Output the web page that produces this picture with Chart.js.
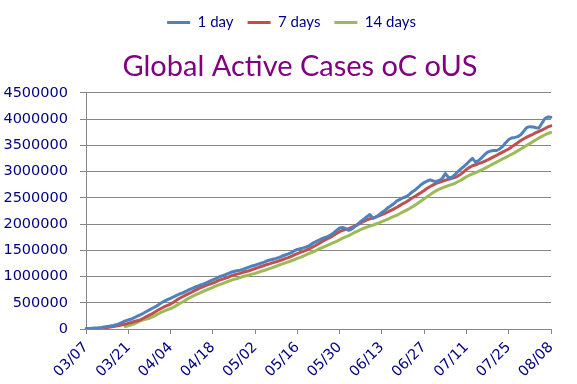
<!DOCTYPE html>
<html>
<head>
<meta charset="utf-8">
<script src="https://cdn.jsdelivr.net/npm/chart.js@4.4.1/dist/chart.umd.min.js"></script>
<style>
html,body{margin:0;padding:0;background:#fff;}
#wrap{width:577px;height:384px;}
</style>
</head>
<body>
<div id="wrap"><canvas id="c" width="577" height="384"></canvas></div>
<script>
const categories = [
"03/07","03/08","03/09","03/10","03/11","03/12","03/13","03/14","03/15","03/16","03/17","03/18","03/19","03/20","03/21","03/22","03/23","03/24","03/25","03/26","03/27","03/28","03/29","03/30","03/31",
"04/01","04/02","04/03","04/04","04/05","04/06","04/07","04/08","04/09","04/10","04/11","04/12","04/13","04/14","04/15","04/16","04/17","04/18","04/19","04/20","04/21","04/22","04/23","04/24","04/25","04/26","04/27","04/28","04/29","04/30",
"05/01","05/02","05/03","05/04","05/05","05/06","05/07","05/08","05/09","05/10","05/11","05/12","05/13","05/14","05/15","05/16","05/17","05/18","05/19","05/20","05/21","05/22","05/23","05/24","05/25","05/26","05/27","05/28","05/29","05/30","05/31",
"06/01","06/02","06/03","06/04","06/05","06/06","06/07","06/08","06/09","06/10","06/11","06/12","06/13","06/14","06/15","06/16","06/17","06/18","06/19","06/20","06/21","06/22","06/23","06/24","06/25","06/26","06/27","06/28","06/29","06/30",
"07/01","07/02","07/03","07/04","07/05","07/06","07/07","07/08","07/09","07/10","07/11","07/12","07/13","07/14","07/15","07/16","07/17","07/18","07/19","07/20","07/21","07/22","07/23","07/24","07/25","07/26","07/27","07/28","07/29","07/30","07/31",
"08/01","08/02","08/03","08/04","08/05","08/06","08/07","08/08"
];

const tickLabels = ["03/07","03/21","04/04","04/18","05/02","05/16","05/30","06/13","06/27","07/11","07/25","08/08"];

const yTicks = [0,500000,1000000,1500000,2000000,2500000,3000000,3500000,4000000,4500000];

const seriesNames = ["1 day","7 days","14 days"];

const oneDay = [
8000,10000,13000,17000,22000,30000,40000,50000,58000,68000,
80000,100000,128000,155000,172000,190000,215000,245000,270000,300000,
333000,365000,395000,425000,460000,500000,530000,560000,585000,610000,
640000,667000,690000,715000,745000,770000,795000,815000,840000,860000,
885000,910000,935000,960000,990000,1010000,1030000,1055000,1080000,1095000,
1110000,1120000,1135000,1160000,1180000,1200000,1215000,1235000,1255000,1275000,
1300000,1315000,1330000,1345000,1365000,1390000,1410000,1430000,1455000,1490000,
1515000,1530000,1545000,1565000,1590000,1630000,1660000,1690000,1715000,1740000,
1760000,1790000,1830000,1880000,1925000,1935000,1910000,1880000,1905000,1950000,
2000000,2050000,2090000,2140000,2180000,2110000,2130000,2175000,2220000,2260000,
2310000,2350000,2390000,2440000,2470000,2500000,2520000,2560000,2610000,2650000,
2700000,2750000,2790000,2820000,2840000,2820000,2810000,2830000,2870000,2960000,
2890000,2880000,2930000,2990000,3040000,3090000,3140000,3200000,3250000,3180000,
3210000,3260000,3320000,3370000,3390000,3400000,3400000,3430000,3480000,3550000,
3610000,3640000,3650000,3665000,3700000,3770000,3840000,3855000,3850000,3835000,
3830000,3920000,4010000,4040000,4035000
];

const sevenDays = [
null,null,null,null,null,null,20000,28000,37000,47000,
57000,68000,80000,92000,108000,125000,142000,158000,175000,205000,
235000,265000,295000,330000,365000,395000,425000,450000,475000,510000,
550000,585000,615000,645000,672000,700000,730000,760000,790000,810000,
835000,855000,875000,900000,925000,945000,965000,985000,1010000,1030000,
1045000,1060000,1080000,1095000,1110000,1130000,1150000,1170000,1190000,1210000,
1230000,1245000,1265000,1280000,1300000,1320000,1340000,1360000,1385000,1410000,
1435000,1460000,1480000,1505000,1530000,1560000,1590000,1625000,1660000,1690000,
1720000,1750000,1785000,1820000,1855000,1880000,1895000,1910000,1935000,1960000,
1990000,2020000,2050000,2080000,2100000,2115000,2135000,2155000,2180000,2205000,
2230000,2260000,2290000,2320000,2355000,2390000,2420000,2455000,2495000,2530000,
2565000,2600000,2640000,2680000,2715000,2745000,2775000,2795000,2815000,2835000,
2850000,2865000,2885000,2910000,2945000,2990000,3040000,3080000,3110000,3130000,
3150000,3170000,3195000,3220000,3250000,3280000,3310000,3340000,3370000,3400000,
3430000,3470000,3510000,3550000,3590000,3625000,3655000,3685000,3710000,3740000,
3765000,3790000,3820000,3850000,3870000
];

const fourteenDays = [
null,null,null,null,null,null,null,null,null,null,
null,null,null,45000,60000,78000,100000,125000,155000,175000,
190000,205000,230000,260000,290000,320000,345000,370000,390000,415000,
450000,485000,515000,550000,585000,615000,645000,670000,695000,720000,
745000,770000,795000,820000,840000,860000,885000,905000,925000,945000,
960000,980000,1000000,1015000,1030000,1045000,1060000,1080000,1100000,1115000,
1135000,1155000,1175000,1195000,1220000,1240000,1260000,1280000,1300000,1320000,
1345000,1365000,1390000,1415000,1440000,1465000,1490000,1520000,1545000,1570000,
1595000,1620000,1645000,1670000,1700000,1730000,1755000,1780000,1810000,1840000,
1865000,1895000,1920000,1940000,1960000,1980000,2000000,2020000,2045000,2070000,
2095000,2120000,2145000,2170000,2200000,2230000,2260000,2290000,2325000,2360000,
2400000,2440000,2480000,2520000,2560000,2600000,2635000,2665000,2690000,2710000,
2730000,2750000,2770000,2800000,2830000,2865000,2900000,2930000,2955000,2980000,
3005000,3030000,3060000,3090000,3120000,3150000,3180000,3210000,3240000,3270000,
3300000,3330000,3360000,3395000,3430000,3465000,3500000,3535000,3570000,3605000,
3640000,3670000,3700000,3725000,3745000
];

const colors = ["#4F81BD","#C0504D","#9BBB59"];
const TEXT = "#000080";
const GRID = "#868686";

const TITLE_DX = 11.5;
const LEGEND_DX = 3;

const shiftBoxes = {
  id: 'shiftBoxes',
  afterLayout(chart) {
    const t = chart.titleBlock;
    if (t) { t.left += TITLE_DX; t.right += TITLE_DX; }
    const l = chart.legend;
    if (l) { l.left += LEGEND_DX; l.right += LEGEND_DX; }
  }
};

const dataSeries = [oneDay, sevenDays, fourteenDays];

new Chart(document.getElementById('c'), {
  type: 'line',
  data: {
    labels: categories,
    datasets: dataSeries.map((d, i) => ({
      label: seriesNames[i],
      data: d,
      yAxisID: 'y',
      borderColor: colors[i],
      backgroundColor: colors[i],
      borderWidth: 3,
      pointRadius: 0,
      pointHoverRadius: 0,
      tension: 0,
      fill: false,
      spanGaps: false,
      borderJoinStyle: 'round',
      borderCapStyle: 'round'
    }))
  },
  options: {
    responsive: false,
    animation: false,
    devicePixelRatio: 1,
    layout: { padding: { top: 1, left: 0, right: 0, bottom: 0 } },
    plugins: {
      legend: {
        display: true,
        position: 'top',
        weight: 3000,
        labels: {
          boxWidth: 23,
          boxHeight: 3,
          padding: 14,
          color: TEXT,
          font: { family: 'Lato', size: 15 },
          generateLabels(chart) {
            return chart.data.datasets.map((ds, i) => ({
              text: ds.label,
              fillStyle: ds.borderColor,
              strokeStyle: ds.borderColor,
              lineWidth: 0,
              hidden: false,
              datasetIndex: i,
              fontColor: TEXT
            }));
          }
        }
      },
      title: {
        display: true,
        text: 'Global Active Cases oC oUS',
        color: '#800080',
        weight: 2000,
        font: { family: 'Lato', size: 29, weight: 'normal' },
        padding: { top: 9, bottom: 9 }
      },
      tooltip: { enabled: false }
    },
    scales: {
      x: {
        type: 'category',
        offset: false,
        afterFit(scale) { scale.height = 55; },
        grid: {
          display: true,
          drawOnChartArea: false,
          drawTicks: true,
          tickLength: 5,
          tickColor: (ctx) => (tickLabels.includes(categories[ctx.index]) ? GRID : 'rgba(0,0,0,0)'),
          lineWidth: 1
        },
        border: { display: true, color: GRID, width: 1 },
        ticks: {
          autoSkip: false,
          minRotation: 45,
          maxRotation: 45,
          padding: 5,
          color: TEXT,
          font: { family: 'DejaVu Sans', size: 14.5 },
          callback(value, index) {
            const lab = categories[index];
            return tickLabels.includes(lab) ? lab : '';
          }
        }
      },
      y: {
        position: 'left',
        min: 0,
        max: 4500000,
        afterFit(scale) { scale.width = 86; },
        afterBuildTicks(scale) { scale.ticks = yTicks.map(v => ({ value: v })); },
        grid: {
          color: GRID,
          lineWidth: 1,
          drawTicks: true,
          tickLength: 6,
          tickColor: GRID
        },
        border: { display: true, color: GRID, width: 1 },
        ticks: {
          padding: 12,
          color: TEXT,
          font: { family: 'DejaVu Sans', size: 14.5 },
          callback(v) { return String(v); }
        }
      },
      yRightSpace: {
        position: 'right',
        display: true,
        afterFit(scale) { scale.width = 26; },
        grid: { display: false, drawTicks: false },
        border: { display: false },
        ticks: { display: false }
      }
    }
  },
  plugins: [shiftBoxes]
});
</script>
</body>
</html>
